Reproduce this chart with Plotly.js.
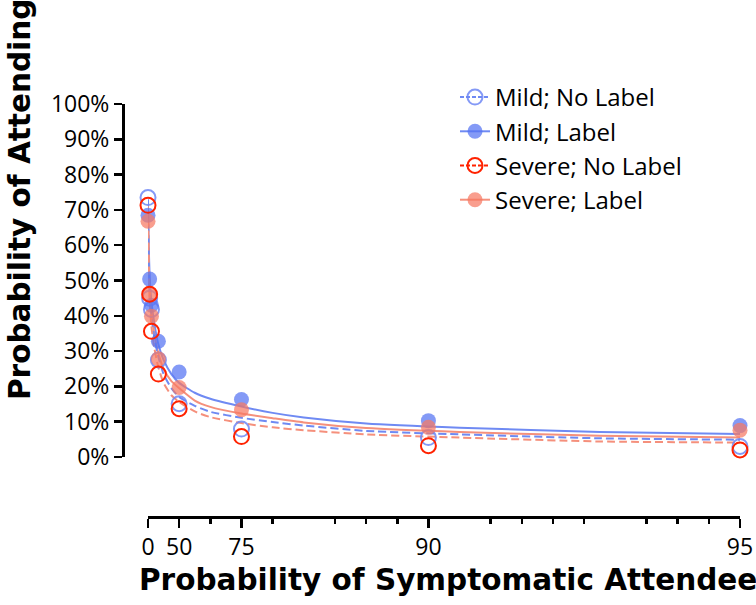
<!DOCTYPE html>
<html>
<head>
<meta charset="utf-8">
<script src="https://cdn.plot.ly/plotly-3.0.1.min.js"></script>
<style>
  html, body { margin: 0; padding: 0; background: #fff; }
  #chart { width: 756px; height: 605px; }
</style>
</head>
<body>
<div id="chart"></div>
<script>
// ---- Data ----
// Probability of symptomatic attendee (%) at which each point was measured
const attendeeProb = [0, 5, 10, 25, 50, 75, 90, 95];
// Probability of attending (%)
const mildNoLabel   = [73.5, 45.0, 41.8, 27.5, 15.1, 7.9, 5.5, 3.0];
const mildLabel     = [68.5, 50.4, 43.0, 32.8, 24.1, 16.3, 10.3, 8.9];
const severeNoLabel = [71.3, 46.1, 35.6, 23.5, 13.7, 5.8, 3.2, 2.0];
const severeLabel   = [66.8, 46.2, 39.9, 27.8, 19.7, 13.4, 8.4, 7.6];

// Fitted curves, on the odds axis (p / (1 - p))
const curveOdds         = [0, 0.05, 0.11, 0.2, 0.33, 0.5, 0.75, 1, 1.5, 2, 3, 4, 5, 7, 10, 14.5, 19];
const curveMildLabel    = [69, 52, 44, 38, 32, 27.5, 23.5, 21, 18.2, 16.5, 14.3, 12.5, 11.2, 9.5, 8.3, 7.1, 6.5];
const curveSevereLabel  = [67, 48, 41, 35, 29.5, 25, 21.5, 19.5, 16.0, 14.2, 12.3, 11.0, 9.8, 8.2, 7.1, 6.0, 5.5];
const curveMildNoLabel  = [73, 47, 40, 34, 28.5, 23.5, 19.5, 17, 14.5, 12.8, 11.1, 9.9, 8.9, 7.4, 6.4, 5.3, 4.9];
const curveSevereNoLabel= [71, 45, 37, 31, 25.5, 21, 17.5, 15.6, 12.9, 11.3, 9.6, 8.4, 7.6, 6.4, 5.5, 4.4, 4.1];

// Axis ticks
const xTickProbs  = [0, 50, 75, 90, 95];
const xTickLabels = ['0', '50', '75', '90', '95'];
const xMinorOdds  = [2, 4, 6, 7, 8, 11, 12, 13, 14, 16, 17, 18];

// ---- Styling ----
const toOdds = p => p / (100 - p);
const xPts = attendeeProb.map(toOdds);

const BLUE_LINE = '#6f8af3';
const SALMON_LINE = '#f5907c';
const BLUE_OPEN = 'rgba(110,135,245,0.85)';
const BLUE_FILL = 'rgba(85,115,242,0.72)';
const RED_OPEN = '#ff2200';
const SALMON_FILL = 'rgba(247,120,98,0.72)';
const DASH = '8px,4px';
const TICKFONT = '"Open Sans", Lato, sans-serif';
const TITLEFONT = '"DejaVu Sans", "Open Sans", sans-serif';
const MS = 15;

const traces = [
  // fitted curves
  {x: curveOdds, y: curveMildLabel, mode: 'lines', line: {color: BLUE_LINE, width: 2, shape: 'spline', smoothing: 0.6}, showlegend: false, hoverinfo: 'skip'},
  {x: curveOdds, y: curveSevereLabel, mode: 'lines', line: {color: SALMON_LINE, width: 2, shape: 'spline', smoothing: 0.6}, showlegend: false, hoverinfo: 'skip'},
  {x: curveOdds, y: curveMildNoLabel, mode: 'lines', line: {color: BLUE_LINE, width: 2, dash: DASH, shape: 'spline', smoothing: 0.6}, showlegend: false, hoverinfo: 'skip'},
  {x: curveOdds, y: curveSevereNoLabel, mode: 'lines', line: {color: SALMON_LINE, width: 2, dash: DASH, shape: 'spline', smoothing: 0.6}, showlegend: false, hoverinfo: 'skip'},
  // points
  {x: xPts, y: mildNoLabel, mode: 'markers', cliponaxis: false, showlegend: false,
   marker: {symbol: 'circle-open', size: MS, color: BLUE_OPEN, line: {width: 2}}},
  {x: xPts, y: mildLabel, mode: 'markers', cliponaxis: false, showlegend: false,
   marker: {symbol: 'circle', size: MS, color: BLUE_FILL, line: {width: 0}}},
  {x: xPts, y: severeLabel, mode: 'markers', cliponaxis: false, showlegend: false,
   marker: {symbol: 'circle', size: MS, color: SALMON_FILL, line: {width: 0}}},
  {x: xPts, y: severeNoLabel, mode: 'markers', cliponaxis: false, showlegend: false,
   marker: {symbol: 'circle-open', size: MS, color: RED_OPEN, line: {width: 2}}},
  // legend entries
  {x: [null], y: [null], name: 'Mild; No Label', mode: 'lines+markers',
   line: {color: BLUE_LINE, width: 2, dash: '4px,2px'}, marker: {symbol: 'circle-open', size: 15, color: BLUE_OPEN, line: {width: 2}}},
  {x: [null], y: [null], name: 'Mild; Label', mode: 'lines+markers',
   line: {color: BLUE_LINE, width: 2}, marker: {symbol: 'circle', size: 15, color: BLUE_FILL}},
  {x: [null], y: [null], name: 'Severe; No Label', mode: 'lines+markers',
   line: {color: RED_OPEN, width: 2, dash: '4px,2px'}, marker: {symbol: 'circle-open', size: 15, color: RED_OPEN, line: {width: 2}}},
  {x: [null], y: [null], name: 'Severe; Label', mode: 'lines+markers',
   line: {color: SALMON_LINE, width: 2}, marker: {symbol: 'circle', size: 15, color: SALMON_FILL}}
];

const W = 756, H = 605;
const M = {l: 123, r: 16, t: 104, b: 88, autoexpand: false};
const plotW = W - M.l - M.r, plotH = H - M.t - M.b;
const xStart = (148 - M.l) / plotW;
const yStart = (517 - 457) / plotH;

const layout = {
  width: W, height: H,
  margin: M,
  paper_bgcolor: '#fff', plot_bgcolor: 'rgba(0,0,0,0)',
  font: {family: TICKFONT, color: '#000'},
  showlegend: true,
  legend: {
    xref: 'paper', yref: 'paper',
    x: (455 - M.l) / plotW, xanchor: 'left', y: (H - M.b - 75) / plotH, yanchor: 'top',
    font: {family: TICKFONT, size: 24, color: '#000'},
    bgcolor: 'rgba(0,0,0,0)', tracegroupgap: 0
  },
  xaxis: {
    domain: [xStart, 1], anchor: 'free', position: 0,
    range: [0, 19], showgrid: false, zeroline: false,
    showline: true, linecolor: '#000', linewidth: 2.5,
    ticks: 'outside', ticklen: 9, tickwidth: 2.5, tickcolor: '#000', tickangle: 0,
    tickmode: 'array', tickvals: xTickProbs.map(toOdds), ticktext: xTickLabels,
    tickfont: {family: TICKFONT, size: 23, color: '#000'},
    minor: {tickmode: 'array', tickvals: xMinorOdds, ticks: 'outside', ticklen: 5, tickwidth: 2.5, tickcolor: '#000', showgrid: false}
  },
  yaxis: {
    domain: [yStart, 1], anchor: 'free', position: 0,
    range: [0, 100], showgrid: false, zeroline: false,
    showline: true, linecolor: '#000', linewidth: 2.5,
    ticks: 'outside', ticklen: 8, tickwidth: 2.5, tickcolor: '#000',
    tickmode: 'linear', tick0: 0, dtick: 10, ticksuffix: '%',
    tickfont: {family: TICKFONT, size: 23, color: '#000'}
  },
  annotations: [
    {text: '<b>Probability of Symptomatic Attendee</b>', xref: 'paper', yref: 'paper',
     x: (448 - M.l) / plotW, y: (H - M.b - 580) / plotH, xanchor: 'center', yanchor: 'middle',
     showarrow: false, font: {family: TITLEFONT, size: 29.5, color: '#000'}},
    {text: '<b>Probability of Attending</b>', xref: 'paper', yref: 'paper', textangle: -90,
     x: (20 - M.l) / plotW, y: (H - M.b - 200) / plotH, xanchor: 'center', yanchor: 'middle',
     showarrow: false, font: {family: TITLEFONT, size: 29.5, color: '#000'}}
  ]
};

Plotly.newPlot('chart', traces, layout, {displayModeBar: false, staticPlot: true});
</script>
</body>
</html>
